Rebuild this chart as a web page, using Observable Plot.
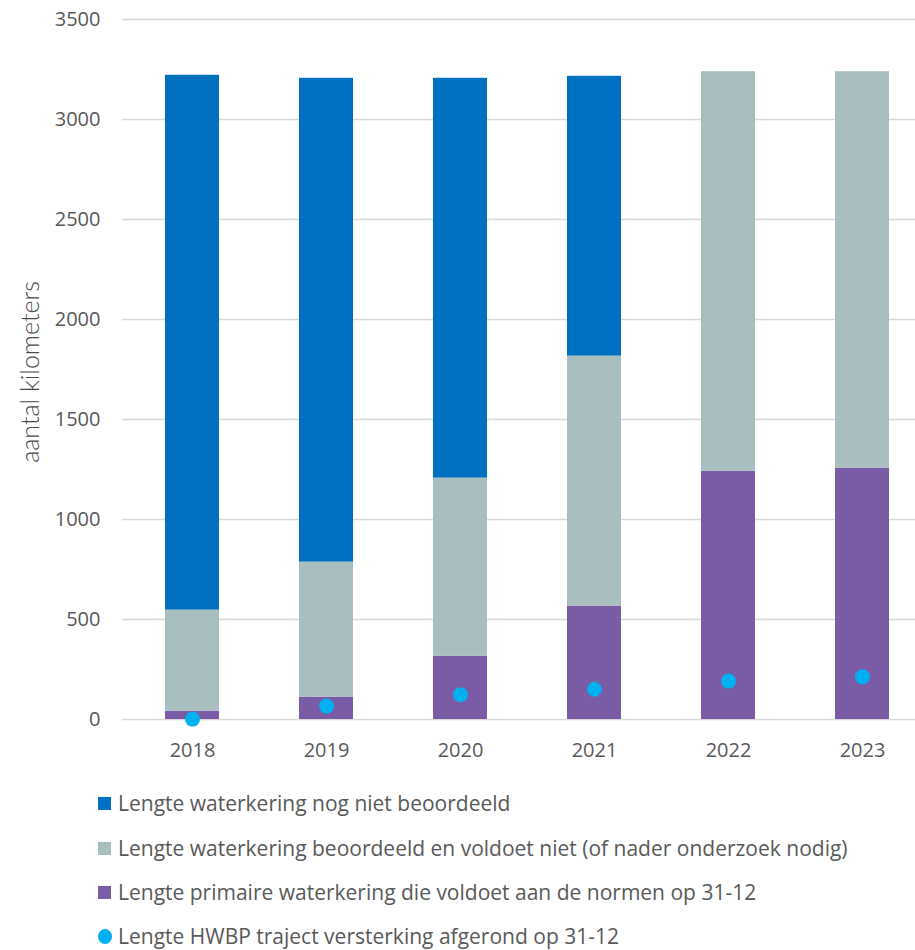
<!DOCTYPE html>
<html>
<head>
<meta charset="utf-8">
<script src="https://cdn.jsdelivr.net/npm/d3@7"></script>
<script src="https://cdn.jsdelivr.net/npm/@observablehq/plot@0.6"></script>
<style>
  html, body { margin: 0; padding: 0; background: #fff; }
  #wrap { position: relative; width: 915px; height: 950px; overflow: hidden; font-family: "Open Sans", sans-serif; color: #595959; }
  #chart { position: absolute; left: 0; top: 0; }
  #ylabel { position: absolute; left: 30px; top: 372px; transform: translate(-50%, -50%) rotate(-90deg); white-space: nowrap; font-family: Lato, sans-serif; font-weight: 300; font-size: 25px; line-height: 1.1; color: #4a4a4a; }
  .leg { position: absolute; left: 98px; display: flex; align-items: center; white-space: nowrap; font-family: "Open Sans", sans-serif; font-size: 21px; line-height: 1.05; color: #595959; transform: translateY(-50%); }
  .sw { width: 13px; height: 13px; margin-right: 7px; flex: none; }
  .sw.dot { border-radius: 50%; width: 14px; height: 15px; margin-right: 6px; }
</style>
</head>
<body>
<div id="wrap">
  <div id="chart"></div>
  <div id="ylabel">aantal kilometers</div>
  <div id="legend"></div>
</div>
<script>
const years = ["2018", "2019", "2020", "2021", "2022", "2023"];
const seriesNames = [
  "Lengte waterkering nog niet beoordeeld",
  "Lengte waterkering beoordeeld en voldoet niet (of nader onderzoek nodig)",
  "Lengte primaire waterkering die voldoet aan de normen op 31-12",
  "Lengte HWBP traject versterking afgerond op 31-12"
];
const notAssessed = [2674, 2419, 1999, 1399, 0, 0];
const notMeeting  = [505, 675, 890, 1250, 1997, 1982];
const meeting     = [42, 112, 317, 567, 1242, 1257];
const hwbp        = [2, 67, 124, 151, 192, 214];
const yTicks = [0, 500, 1000, 1500, 2000, 2500, 3000, 3500];
const colors = ["#0070C0", "#A9BFBF", "#7A5CA6", "#00B0F0"];
const legendY = [803, 848, 892, 936];

const rows = [];
years.forEach((y, i) => {
  rows.push({year: y, series: seriesNames[2], value: meeting[i]});
  rows.push({year: y, series: seriesNames[1], value: notMeeting[i]});
  rows.push({year: y, series: seriesNames[0], value: notAssessed[i]});
});
const dots = years.map((y, i) => ({year: y, value: hwbp[i]}));

const chart = Plot.plot({
  width: 915,
  height: 770,
  marginTop: 19,
  marginBottom: 51,
  marginLeft: 122,
  marginRight: 0,
  style: {fontFamily: "Open Sans, sans-serif", fontSize: "20px", color: "#595959", background: "#fff"},
  x: {type: "band", domain: years, range: [122.3, 931.1], paddingInner: 0.6, paddingOuter: 0.3, label: null},
  y: {domain: [0, 3500], ticks: yTicks, label: null},
  color: {domain: seriesNames.slice(0, 3), range: colors.slice(0, 3)},
  marks: [
    Plot.gridY(yTicks, {stroke: "#d9d9d9", strokeOpacity: 1, strokeWidth: 1.4}),
    Plot.barY(rows, Plot.stackY({
      x: "year", y: "value", fill: "series",
      order: [seriesNames[2], seriesNames[1], seriesNames[0]]
    })),
    Plot.dot(dots, {x: "year", y: "value", r: 7.5, fill: colors[3], stroke: null}),
    Plot.axisY(yTicks, {tickSize: 0, tickPadding: 22, fill: "#595959", fontSize: 20, label: null, tickFormat: d => String(d)}),
    Plot.axisX({tickSize: 0, tickPadding: 23, fill: "#595959", fontSize: 20, label: null})
  ]
});
document.getElementById("chart").appendChild(chart);

const legend = document.getElementById("legend");
seriesNames.forEach((name, i) => {
  const item = document.createElement("div");
  item.className = "leg";
  item.style.top = legendY[i] + "px";
  const sw = document.createElement("span");
  sw.className = "sw" + (i === 3 ? " dot" : "");
  sw.style.background = colors[i];
  const t = document.createElement("span");
  t.textContent = name;
  item.appendChild(sw);
  item.appendChild(t);
  legend.appendChild(item);
});
</script>
</body>
</html>
